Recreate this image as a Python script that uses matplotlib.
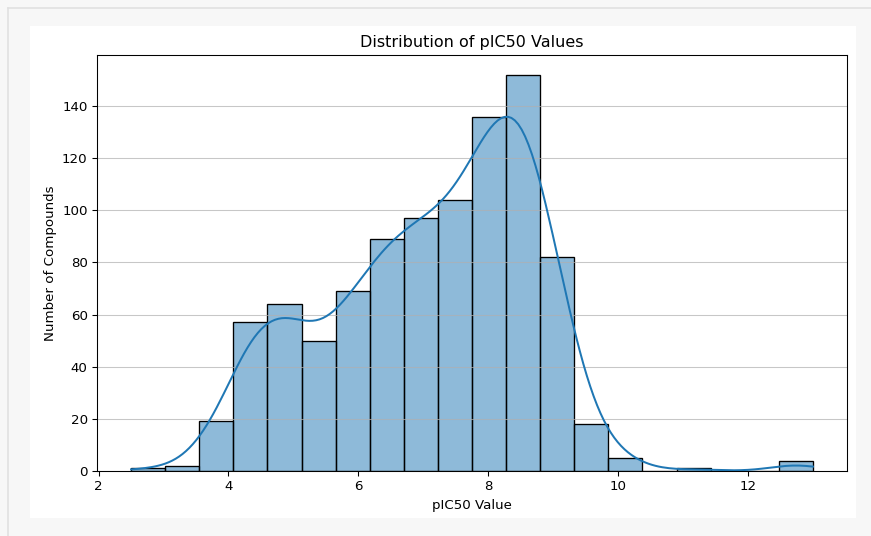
import numpy as np
import matplotlib
matplotlib.use("Agg")
import matplotlib.pyplot as plt
from matplotlib.patches import Rectangle
from matplotlib.lines import Line2D
import seaborn as sns

# histogram bins (20 bins from 2.5 to 13) and counts
bin_edges = np.linspace(2.5, 13.0, 21)
counts = [1, 2, 19, 57, 64, 50, 69, 89, 97, 104, 136, 152, 82, 18, 5, 0, 1, 0, 0, 4]

title = "Distribution of pIC50 Values"
xlabel = "pIC50 Value"
ylabel = "Number of Compounds"

# rebuild observations at bin centres so seaborn draws bars + kde itself
centers = (bin_edges[:-1] + bin_edges[1:]) / 2
pic50 = np.repeat(centers, counts)

DPI = 96
fig = plt.figure(figsize=(871 / DPI, 536 / DPI), dpi=DPI, facecolor="#f7f7f7")

# notebook output frame
fig.add_artist(Rectangle((30 / 871, 1 - 518 / 536), 826 / 871, 492 / 536,
                         transform=fig.transFigure, facecolor="white",
                         edgecolor="none", zorder=-10))
fig.add_artist(Line2D([8 / 871, 8 / 871], [0, 1 - 8 / 536], transform=fig.transFigure,
                      color="#e0e0e0", lw=1.2))
fig.add_artist(Line2D([8 / 871, 1], [1 - 8 / 536, 1 - 8 / 536], transform=fig.transFigure,
                      color="#e0e0e0", lw=1.2))

ax = fig.add_axes([97 / 871, 1 - 471 / 536, (847 - 97) / 871, (471 - 55) / 536])
ax.set_facecolor("white")
sns.histplot(pic50, bins=bin_edges, kde=True, ax=ax,
             kde_kws={"cut": 1, "clip": (bin_edges[0], bin_edges[-1])})
ax.set_title(title)
ax.set_xlabel(xlabel)
ax.set_ylabel(ylabel)
ax.grid(axis="y", alpha=0.7)

fig.savefig("out.png", dpi=DPI, facecolor=fig.get_facecolor())
